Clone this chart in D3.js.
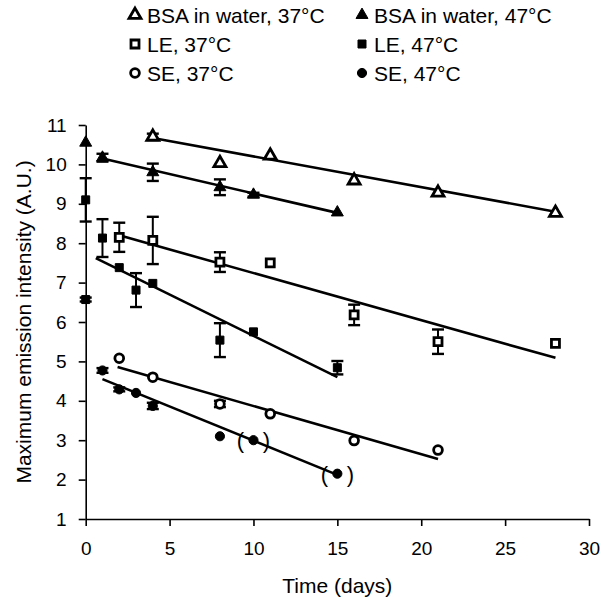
<!DOCTYPE html>
<html>
<head>
<meta charset="utf-8">
<script src="https://cdn.jsdelivr.net/npm/d3@7"></script>
<style>
  html, body { margin: 0; padding: 0; background: #fff; }
  svg { display: block; font-family: "Liberation Sans", Arial, sans-serif; }
</style>
</head>
<body>
<div id="chart"></div>
<script>
// Emission intensity vs. time — points [day, value, errorHalfWidth]
const bsa37 = [[4,10.70,0.08],[8,10.03,0],[11,10.22,0],[16,9.59,0],[21,9.28,0],[28,8.77,0]];
const bsa47 = [[0,10.55,0],[1,10.17,0.1],[4,9.80,0.22],[8,9.42,0.2],[10,9.23,0.05],[15,8.78,0]];
const le37  = [[2,8.15,0.37],[4,8.07,0.6],[8,7.52,0.25],[11,7.50,0],[16,6.18,0.26],[21,5.50,0.31],[28,5.46,0]];
const le47  = [[0,9.10,0.55],[0,6.57,0.05],[1,8.13,0.48],[2,7.38,0],[3,6.81,0.43],[4,6.98,0],[8,5.54,0.43],[10,5.75,0],[15,4.84,0.17]];
const se37  = [[2,5.08,0],[4,4.60,0],[8,3.92,0.08],[11,3.67,0],[16,2.99,0],[21,2.75,0]];
const se47  = [[1,4.77,0.06],[2,4.29,0.05],[3,4.20,0],[4,3.87,0.08],[8,3.10,0],[10,3.00,0],[15,2.15,0]];
const se47Bracketed = [10, 15];  // days shown in ( )

// Trend lines, start and end [day, value]
const fitBsa37 = [[4,10.67],[28,8.80]];
const fitBsa47 = [[1,10.15],[15,8.77]];
const fitLe37  = [[2,8.20],[28,5.09]];
const fitLe47  = [[0.6,7.62],[15,4.60]];
const fitSe37  = [[1.9,4.86],[21,2.52]];
const fitSe47  = [[1,4.55],[15,2.12]];

const xTicks = [0,5,10,15,20,25,30];
const yTicks = [1,2,3,4,5,6,7,8,9,10,11];

const seriesNames = ["BSA in water, 37°C","BSA in water, 47°C","LE, 37°C","LE, 47°C","SE, 37°C","SE, 47°C"];

const W = 602, H = 599;
const svg = d3.select("#chart").append("svg").attr("width", W).attr("height", H);

const x = d3.scaleLinear().domain([0,30]).range([85.7, 589]);
const y = d3.scaleLinear().domain([1,11]).range([519, 125]);

const series = [
  { name: seriesNames[0], data: bsa37, fit: fitBsa37, shape: d3.symbolTriangle, size: 62, open: true },
  { name: seriesNames[1], data: bsa47, fit: fitBsa47, shape: d3.symbolTriangle, size: 62, open: false },
  { name: seriesNames[2], data: le37,  fit: fitLe37,  shape: d3.symbolSquare,   size: 64, open: true },
  { name: seriesNames[3], data: le47,  fit: fitLe47,  shape: d3.symbolSquare,   size: 64, open: false },
  { name: seriesNames[4], data: se37,  fit: fitSe37,  shape: d3.symbolCircle,   size: 60, open: true },
  { name: seriesNames[5], data: se47,  fit: fitSe47,  shape: d3.symbolCircle,   size: 66, open: false },
];

// Axes
const gx = svg.append("g").attr("transform", `translate(0,${y(1)})`)
  .call(d3.axisBottom(x).tickValues(xTicks).tickSize(7).tickSizeOuter(0).tickPadding(16));
const gy = svg.append("g").attr("transform", `translate(${x(0)},0)`)
  .call(d3.axisLeft(y).tickValues(yTicks).tickSize(7).tickSizeOuter(0).tickPadding(12));
[gx, gy].forEach(g => {
  g.selectAll("path,line").attr("stroke", "#000").attr("stroke-width", 1.6);
  g.selectAll("text").attr("fill", "#000").attr("font-size", 19)
    .attr("font-family", '"Liberation Sans", Arial, sans-serif');
});

svg.append("text").attr("x", x(15)).attr("y", 593).attr("text-anchor", "middle")
  .attr("font-size", 21).text("Time (days)");
svg.append("text").attr("transform", "translate(31,322) rotate(-90)")
  .attr("text-anchor", "middle").attr("font-size", 21)
  .text("Maximum emission intensity (A.U.)");

// Trend lines
const line = d3.line().x(d => x(d[0])).y(d => y(d[1]));
svg.append("g").selectAll("path").data(series).join("path")
  .attr("d", s => line(s.fit))
  .attr("fill", "none").attr("stroke", "#000").attr("stroke-width", 2.6);

// Error bars + markers
series.forEach(s => {
  const g = svg.append("g");
  const withErr = s.data.filter(d => d[2] > 0);
  g.selectAll("line.v").data(withErr).join("line")
    .attr("x1", d => x(d[0])).attr("x2", d => x(d[0]))
    .attr("y1", d => y(d[1] - d[2])).attr("y2", d => y(d[1] + d[2]))
    .attr("stroke", "#000").attr("stroke-width", 2);
  [-1, 1].forEach(sgn => {
    g.selectAll(null).data(withErr).join("line")
      .attr("x1", d => x(d[0]) - 6).attr("x2", d => x(d[0]) + 6)
      .attr("y1", d => y(d[1] + sgn * d[2])).attr("y2", d => y(d[1] + sgn * d[2]))
      .attr("stroke", "#000").attr("stroke-width", 2.4);
  });
  g.selectAll("path").data(s.data).join("path")
    .attr("transform", d => `translate(${x(d[0])},${y(d[1])})`)
    .attr("d", d3.symbol().type(s.shape).size(s.size))
    .attr("fill", s.open ? "#fff" : "#000")
    .attr("stroke", "#000").attr("stroke-width", s.open ? 2.8 : 1);
});

// Parentheses around excluded SE 47°C points
const bracketed = se47.filter(d => se47Bracketed.includes(d[0]));
[["(", -13], [")", 13]].forEach(([ch, dx]) => {
  svg.append("g").selectAll("text").data(bracketed).join("text")
    .attr("x", d => x(d[0]) + dx).attr("y", d => y(d[1]) + 8)
    .attr("text-anchor", "middle").attr("font-size", 22)
    .text(ch);
});

// Legend
const legendPos = [[135,15],[362,15],[135,44],[362,44],[135,73],[362,73]];
const lg = svg.append("g").selectAll("g").data(series).join("g")
  .attr("transform", (s, i) => `translate(${legendPos[i][0]},${legendPos[i][1]})`);
lg.append("path")
  .attr("d", s => d3.symbol().type(s.shape).size(s.size)())
  .attr("fill", s => s.open ? "#fff" : "#000")
  .attr("stroke", "#000").attr("stroke-width", s => s.open ? 2.8 : 1);
lg.append("text").attr("x", 12).attr("y", 7.5).attr("font-size", 21).text(s => s.name);
</script>
</body>
</html>
